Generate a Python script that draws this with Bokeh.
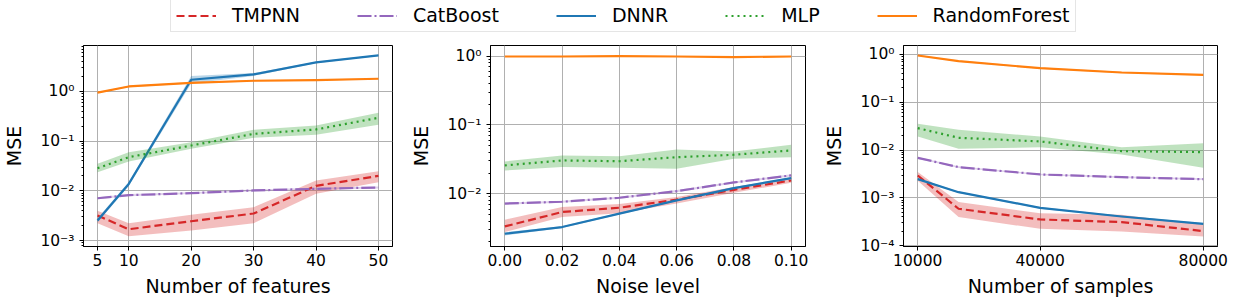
from bokeh.plotting import figure
from bokeh.layouts import column, row
from bokeh.models import (Range1d, FixedTicker, PrintfTickFormatter, CustomJSTickFormatter,
                          Legend, LegendItem)
from bokeh.embed import file_html
from bokeh.resources import INLINE

# ---------------- data ----------------
models = ["TMPNN", "CatBoost", "DNNR", "MLP", "RandomForest"]

# Panel 1: number of features
features = [5, 10, 20, 30, 40, 50]
feat_tmpnn = [3.2e-3, 1.69e-3, 2.45e-3, 3.5e-3, 0.0126, 0.020]
feat_tmpnn_lo = [2.23e-3, 1.22e-3, 1.59e-3, 2.23e-3, 8.7e-3, 0.0149]
feat_tmpnn_hi = [4.0e-3, 2.23e-3, 3.29e-3, 4.69e-3, 0.0161, 0.0249]
feat_cat = [7.1e-3, 8.2e-3, 9.0e-3, 0.0102, 0.011, 0.0117]
feat_cat_lo = [6.8e-3, 7.8e-3, 8.6e-3, 9.7e-3, 0.0105, 0.0112]
feat_cat_hi = [7.4e-3, 8.6e-3, 9.4e-3, 0.0107, 0.0115, 0.0122]
feat_dnnr = [2.53e-3, 0.0138, 1.72, 2.2, 3.84, 5.3]
feat_dnnr_lo = [2.3e-3, 0.0125, 1.45, 2.05, 3.7, 5.15]
feat_dnnr_hi = [2.8e-3, 0.015, 2.05, 2.35, 3.98, 5.45]
feat_mlp = [0.0286, 0.0476, 0.0818, 0.14, 0.172, 0.295]
feat_mlp_lo = [0.0238, 0.039, 0.070, 0.117, 0.134, 0.213]
feat_mlp_hi = [0.035, 0.060, 0.0955, 0.169, 0.207, 0.372]
feat_rf = [0.95, 1.26, 1.49, 1.64, 1.69, 1.80]
feat_rf_lo = [0.92, 1.22, 1.44, 1.59, 1.64, 1.75]
feat_rf_hi = [0.98, 1.30, 1.54, 1.69, 1.74, 1.85]

# Panel 2: noise level
noise = [0.0, 0.02, 0.04, 0.06, 0.08, 0.10]
noise_tmpnn = [3.35e-3, 5.42e-3, 6.26e-3, 8.2e-3, 0.0114, 0.0156]
noise_tmpnn_lo = [2.77e-3, 4.58e-3, 5.2e-3, 7.2e-3, 0.0103, 0.0144]
noise_tmpnn_hi = [4.2e-3, 6.4e-3, 7.1e-3, 9.0e-3, 0.0125, 0.0166]
noise_cat = [7.2e-3, 7.65e-3, 8.75e-3, 0.0109, 0.0146, 0.0185]
noise_cat_lo = [6.95e-3, 7.4e-3, 8.45e-3, 0.0105, 0.0141, 0.0178]
noise_cat_hi = [7.45e-3, 7.9e-3, 9.05e-3, 0.0113, 0.0151, 0.0192]
noise_dnnr = [2.62e-3, 3.28e-3, 5.13e-3, 8.0e-3, 0.0121, 0.0169]
noise_dnnr_lo = [2.48e-3, 3.18e-3, 4.98e-3, 7.75e-3, 0.0117, 0.0164]
noise_dnnr_hi = [2.76e-3, 3.38e-3, 5.28e-3, 8.25e-3, 0.0125, 0.0174]
noise_mlp = [0.0258, 0.0305, 0.0297, 0.034, 0.0369, 0.0426]
noise_mlp_lo = [0.0218, 0.0244, 0.0238, 0.0231, 0.0322, 0.034]
noise_mlp_hi = [0.0295, 0.036, 0.035, 0.044, 0.041, 0.0515]
noise_rf = [0.99, 0.99, 1.0, 0.99, 0.97, 0.99]
noise_rf_lo = [0.97, 0.97, 0.98, 0.97, 0.95, 0.97]
noise_rf_hi = [1.01, 1.01, 1.02, 1.01, 0.99, 1.01]

# Panel 3: number of samples
samples = [10000, 20000, 40000, 60000, 80000]
samp_tmpnn = [2.95e-3, 5.94e-4, 3.55e-4, 3.13e-4, 2.03e-4]
samp_tmpnn_lo = [2.3e-3, 4.0e-4, 2.26e-4, 2.0e-4, 1.57e-4]
samp_tmpnn_hi = [3.5e-3, 8.2e-4, 4.8e-4, 4.45e-4, 2.75e-4]
samp_cat = [6.9e-3, 4.41e-3, 3.1e-3, 2.72e-3, 2.47e-3]
samp_cat_lo = [6.6e-3, 4.23e-3, 2.98e-3, 2.61e-3, 2.37e-3]
samp_cat_hi = [7.2e-3, 4.59e-3, 3.22e-3, 2.83e-3, 2.57e-3]
samp_dnnr = [2.47e-3, 1.32e-3, 6.2e-4, 4.1e-4, 2.88e-4]
samp_dnnr_lo = [2.37e-3, 1.27e-3, 5.95e-4, 3.94e-4, 2.76e-4]
samp_dnnr_hi = [2.57e-3, 1.37e-3, 6.45e-4, 4.26e-4, 3.0e-4]
samp_mlp = [0.0288, 0.0181, 0.0152, 9.5e-3, 9.1e-3]
samp_mlp_lo = [0.0193, 0.0107, 0.0115, 8.1e-3, 4.27e-3]
samp_mlp_hi = [0.0355, 0.0266, 0.0193, 0.0115, 0.014]
samp_rf = [0.953, 0.726, 0.518, 0.42, 0.376]
samp_rf_lo = [0.925, 0.704, 0.502, 0.407, 0.365]
samp_rf_hi = [0.982, 0.748, 0.534, 0.433, 0.387]

feature_ticks = [5, 10, 20, 30, 40, 50]
noise_ticks = [0.0, 0.02, 0.04, 0.06, 0.08, 0.10]
sample_ticks = [10000, 40000, 80000]

# ---------------- style ----------------
colors = {"TMPNN": "#d62728", "CatBoost": "#9467bd", "DNNR": "#1f77b4",
          "MLP": "#2ca02c", "RandomForest": "#ff7f0e"}
dashes = {"TMPNN": "8 4", "CatBoost": "14 3 2 3", "DNNR": "solid",
          "MLP": "2 4", "RandomForest": "solid"}
LW = 2.2
FONT = "DejaVu Sans"

sup_js = """
const sup = {"-": "\u207b", "0": "\u2070", "1": "\u00b9", "2": "\u00b2", "3": "\u00b3",
             "4": "\u2074", "5": "\u2075", "6": "\u2076", "7": "\u2077", "8": "\u2078", "9": "\u2079"};
const e = Math.round(Math.log10(tick));
return "10" + String(e).split("").map(c => sup[c]).join("");
"""


def minor_log(lo_dec, hi_dec):
    out = []
    for d in range(lo_dec, hi_dec + 1):
        for m in range(2, 10):
            out.append(m * 10.0 ** d)
    return out


def make_panel(xs, series, xticks, xfmt, xlabel, xr, yr, ymajor, minor_decades,
               width, left, right):
    p = figure(width=width, height=267, x_range=Range1d(*xr), y_range=Range1d(*yr),
               y_axis_type="log", output_backend="svg", toolbar_location=None,
               min_border_left=left, min_border_right=right, min_border_top=9,
               min_border_bottom=57)
    for name, mean, lo, hi in series:
        p.varea(x=xs, y1=lo, y2=hi, fill_color=colors[name], fill_alpha=0.3)
        p.line(xs, mean, line_color=colors[name], line_width=LW,
               line_dash=dashes[name], line_join="round")
    p.xaxis.ticker = FixedTicker(ticks=xticks)
    p.xaxis.formatter = xfmt
    p.yaxis.ticker = FixedTicker(ticks=ymajor, minor_ticks=minor_log(*minor_decades))
    p.yaxis.formatter = CustomJSTickFormatter(code=sup_js)
    p.xaxis.axis_label = xlabel
    p.yaxis.axis_label = "MSE"
    for ax in (p.xaxis[0], p.yaxis[0]):
        ax.axis_label_text_font = FONT
        ax.axis_label_text_font_size = "19px"
        ax.axis_label_text_font_style = "normal"
        ax.axis_label_text_color = "black"
        ax.major_label_text_font = FONT
        ax.major_label_text_font_size = "15.5px"
        ax.major_label_text_color = "black"
        ax.major_tick_in = 0
        ax.major_tick_out = 4
        ax.minor_tick_in = 0
        ax.minor_tick_out = 2
        ax.axis_line_color = "black"
        ax.major_tick_line_color = "black"
        ax.minor_tick_line_color = "black"
    p.xaxis.major_label_standoff = 3
    p.xaxis.axis_label_standoff = 6
    p.yaxis.major_label_standoff = 5
    p.yaxis.axis_label_standoff = 12
    p.grid.grid_line_color = "#b0b0b0"
    p.grid.grid_line_width = 1
    p.outline_line_color = "black"
    p.outline_line_alpha = 1
    p.outline_line_width = 1
    return p


p1 = make_panel(features,
                [("TMPNN", feat_tmpnn, feat_tmpnn_lo, feat_tmpnn_hi),
                 ("CatBoost", feat_cat, feat_cat_lo, feat_cat_hi),
                 ("DNNR", feat_dnnr, feat_dnnr_lo, feat_dnnr_hi),
                 ("MLP", feat_mlp, feat_mlp_lo, feat_mlp_hi),
                 ("RandomForest", feat_rf, feat_rf_lo, feat_rf_hi)],
                feature_ticks, PrintfTickFormatter(format="%d"), "Number of features",
                (2.75, 52.25), (7.6e-4, 8.4), [1e-3, 1e-2, 1e-1, 1e0], (-4, 0),
                405, 77, 13)

p2 = make_panel(noise,
                [("TMPNN", noise_tmpnn, noise_tmpnn_lo, noise_tmpnn_hi),
                 ("CatBoost", noise_cat, noise_cat_lo, noise_cat_hi),
                 ("DNNR", noise_dnnr, noise_dnnr_lo, noise_dnnr_hi),
                 ("MLP", noise_mlp, noise_mlp_lo, noise_mlp_hi),
                 ("RandomForest", noise_rf, noise_rf_lo, noise_rf_hi)],
                noise_ticks, PrintfTickFormatter(format="%.2f"), "Noise level",
                (-0.005, 0.105), (1.71e-3, 1.43), [1e-2, 1e-1, 1e0], (-3, 0),
                410, 85, 10)

p3 = make_panel(samples,
                [("TMPNN", samp_tmpnn, samp_tmpnn_lo, samp_tmpnn_hi),
                 ("CatBoost", samp_cat, samp_cat_lo, samp_cat_hi),
                 ("DNNR", samp_dnnr, samp_dnnr_lo, samp_dnnr_hi),
                 ("MLP", samp_mlp, samp_mlp_lo, samp_mlp_hi),
                 ("RandomForest", samp_rf, samp_rf_lo, samp_rf_hi)],
                sample_ticks, PrintfTickFormatter(format="%d"), "Number of samples",
                (6500, 83500), (9.66e-5, 1.54), [1e-4, 1e-3, 1e-2, 1e-1, 1e0], (-5, 0),
                422, 88, 20)

# ---------------- legend strip ----------------
leg = figure(width=1237, height=36, x_range=Range1d(0, 1), y_range=Range1d(0, 1),
             output_backend="svg", toolbar_location=None, min_border=0,
             x_axis_location=None, y_axis_location=None, outline_line_color=None)
leg.grid.visible = False
items = []
for name in models:
    r = leg.line([5, 6], [5, 6], line_color=colors[name], line_width=LW,
                 line_dash=dashes[name])
    items.append(LegendItem(label=name, renderers=[r]))
legend = Legend(items=items, orientation="horizontal", location=(170, 4),
                glyph_width=40, glyph_height=19, label_standoff=16, spacing=57,
                padding=5, margin=0, label_height=19,
                label_text_font=FONT, label_text_font_size="19px",
                label_text_color="black", border_line_color="#cccccc",
                border_line_width=1, background_fill_color="white")
leg.add_layout(legend, "center")

layout = column(leg, row(p1, p2, p3))
open("out.html", "w").write(file_html(layout, INLINE))
